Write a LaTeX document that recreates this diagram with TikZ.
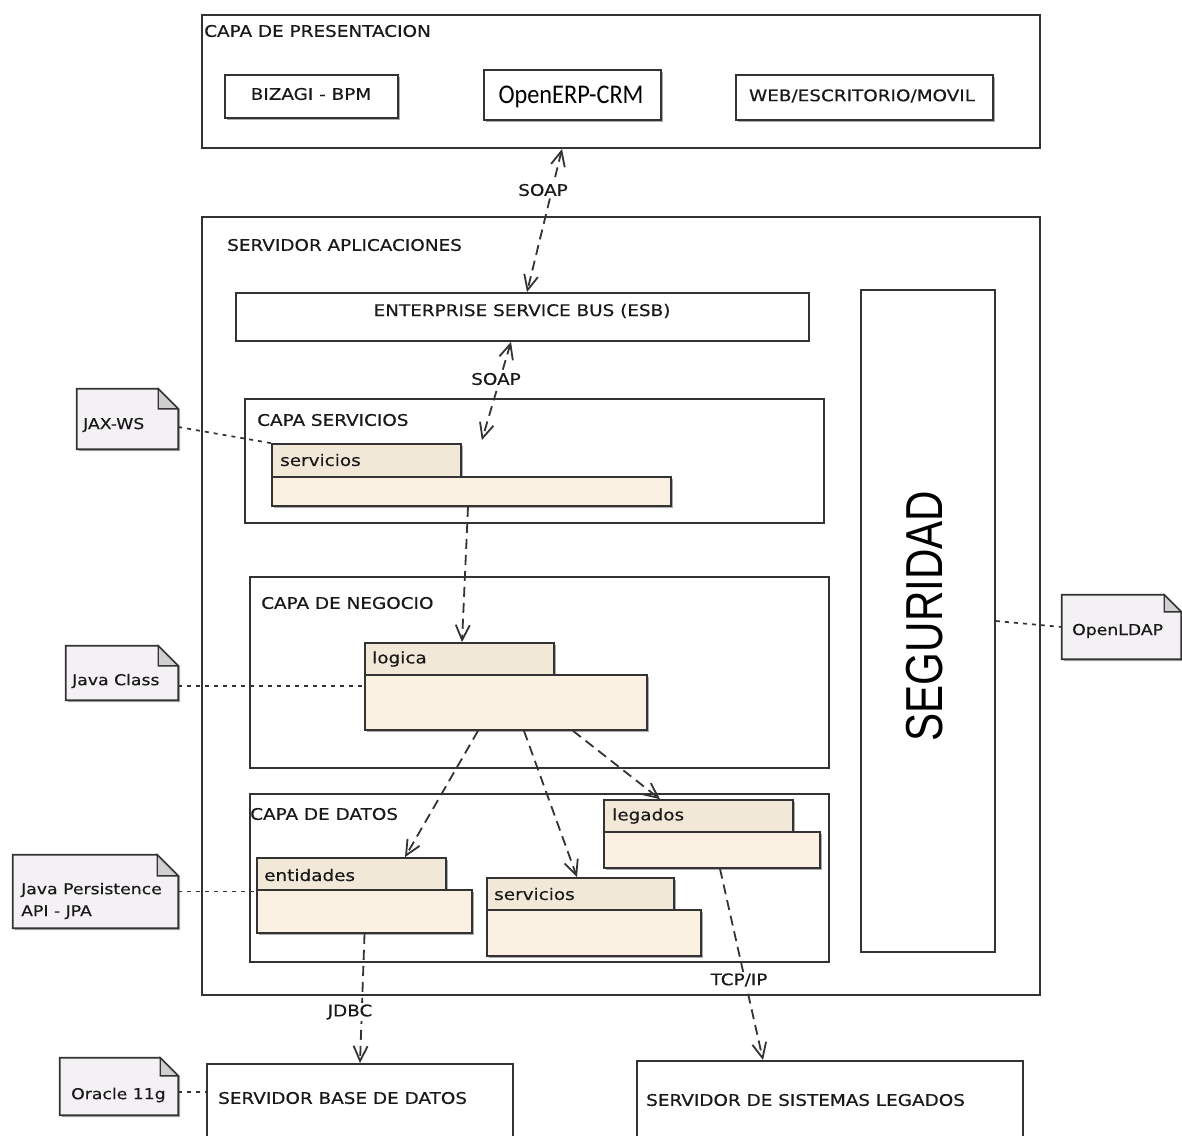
\documentclass[tikz,border=0pt]{standalone}
\usepackage{fontspec}
\newfontfamily\lblfont[FakeStretch=1.15,FakeBold=0.4]{DejaVu Sans}
\newfontfamily\bigfont[FakeStretch=0.81]{Liberation Sans}
\newfontfamily\crmfont[FakeStretch=0.9]{Carlito}
\usetikzlibrary{arrows.meta,fit,shadows,calc}

\definecolor{edge}{HTML}{333333}
\definecolor{pkgbodyfill}{HTML}{FAF1E3}
\definecolor{pkgtabfill}{HTML}{F2E8D8}
\definecolor{notefill}{HTML}{F3F1F3}
\definecolor{notefold}{HTML}{CFCFCF}

% folded-corner note drawn around a named area node
\newcommand{\dognote}[2]{%
  \filldraw[notebox] (#1.north west) -- ([xshift=-#2]#1.north east)
    -- ([yshift=-#2]#1.north east) -- (#1.south east) -- (#1.south west) -- cycle;
  \filldraw[draw=edge, line width=1.4pt, fill=notefold] ([xshift=-#2]#1.north east)
    -- ([xshift=-#2,yshift=-#2]#1.north east) -- ([yshift=-#2]#1.north east) -- cycle;}

\begin{document}
\begin{tikzpicture}[x=1pt, y=-1pt,
  >={Straight Barb[length=15pt,width=14pt,line width=1.8pt]},
  frame/.style={draw=edge, line width=1.9pt, inner sep=0pt, fill=white},
  shade2/.style={drop shadow={shadow xshift=2pt, shadow yshift=-2pt, fill=black!55, opacity=0.6}},
  itembox/.style={frame, line width=1.8pt, shade2},
  pkgtab/.style={draw=edge, line width=1.7pt, inner sep=0pt, fill=pkgtabfill, shade2},
  pkgbody/.style={draw=edge, line width=1.7pt, inner sep=0pt, fill=pkgbodyfill, shade2},
  notearea/.style={inner sep=0pt},
  notebox/.style={draw=edge, line width=1.7pt, fill=notefill, shade2},
  lbl/.style={font=\lblfont\fontsize{16}{18}\selectfont, inner sep=0pt, anchor=west, text=black!90},
  notetxt/.style={font=\lblfont\fontsize{15}{22}\selectfont, inner sep=0pt, anchor=west, text=black!90},
  arrlbl/.style={font=\lblfont\fontsize{16}{18}\selectfont, fill=white, inner sep=1.5pt, text=black!90},
  flow/.style={draw=edge, line width=1.8pt, dash pattern=on 10pt off 6pt},
  noteline/.style={draw=edge, line width=1.7pt, dash pattern=on 4pt off 5pt}]

\useasboundingbox (0,0) rectangle (1182,1135);
\fill[white] (0,0) rectangle (1182,1135);

% ---------- presentation layer ----------
\node[frame, fit={(202,15)(1040,148)}] (pres) {};
\node[lbl] (presT) at (204,31) {CAPA DE PRESENTACION};
\node[itembox, fit={(225,75)(398,118)}] (bizagi) {};
\node[lbl, anchor=center] (bizagiT) at (311,94) {BIZAGI - BPM};
\node[itembox, fit={(484,70)(661,120)}] (openerp) {};
\node[font=\crmfont\fontsize{27}{30}\selectfont, inner sep=0pt] (openerpT) at (571,97) {OpenERP-CRM};
\node[itembox, fit={(736,75)(993,120)}] (web) {};
\node[lbl, anchor=center] (webT) at (862,96) {WEB/ESCRITORIO/MOVIL};

% ---------- application server ----------
\node[frame, fit={(202,217)(1040,995)}] (app) {};
\node[lbl] (appT) at (227,245) {SERVIDOR APLICACIONES};
\node[frame, line width=1.8pt, fit={(236,293)(809,341)}] (esb) {};
\node[lbl, anchor=center] (esbT) at (522,311) {ENTERPRISE SERVICE BUS (ESB)};

% services layer
\node[frame, fit={(245,399)(824,523)}] (lserv) {};
\node[lbl] (lservT) at (257,420) {CAPA SERVICIOS};
\node[pkgtab, fit={(272,444)(461,477)}] (srvtab) {};
\node[pkgbody, fit={(272,477)(671,506)}] (srvbody) {};
\node[lbl] (srvT) at (280,460) {servicios};

% business layer
\node[frame, fit={(250,577)(829,768)}] (lneg) {};
\node[lbl] (lnegT) at (261,603) {CAPA DE NEGOCIO};
\node[pkgtab, fit={(365,643)(554,675)}] (logtab) {};
\node[pkgbody, fit={(365,675)(647,730)}] (logbody) {};
\node[lbl] (logT) at (372,659) {logica};

% data layer
\node[frame, fit={(250,794)(829,962)}] (ldat) {};
\node[lbl] (ldatT) at (250,814) {CAPA DE DATOS};
\node[pkgtab, fit={(257,858)(446,890)}] (enttab) {};
\node[pkgbody, fit={(257,890)(472,933)}] (entbody) {};
\node[lbl] (entT) at (264,875) {entidades};
\node[pkgtab, fit={(487,878)(674,910)}] (srv2tab) {};
\node[pkgbody, fit={(487,910)(701,956)}] (srv2body) {};
\node[lbl] (srv2T) at (494,894) {servicios};
\node[pkgtab, fit={(604,800)(793,832)}] (legtab) {};
\node[pkgbody, fit={(604,832)(820,868)}] (legbody) {};
\node[lbl] (legT) at (612,816) {legados};

% security column
\node[frame, fit={(861,290)(995,952)}] (seg) {};
\node[font=\bigfont\fontsize{52}{54}\selectfont, rotate=90, inner sep=0pt] (segT) at (925,616) {SEGURIDAD};

% ---------- back-end servers ----------
\node[frame, fit={(207,1064)(513,1150)}] (bd) {};
\node[lbl] (bdT) at (218,1098) {SERVIDOR BASE DE DATOS};
\node[frame, fit={(637,1061)(1023,1150)}] (leg) {};
\node[lbl] (legsT) at (646,1100) {SERVIDOR DE SISTEMAS LEGADOS};

% ---------- notes ----------
\node[notearea, fit={(77,389)(178,449)}] (jaxws) {};
\dognote{jaxws}{20pt}
\node[notetxt] (jaxwsT) at (83,425) {JAX-WS};

\node[notearea, fit={(66,646)(178,700)}] (jc) {};
\dognote{jc}{20pt}
\node[notetxt] (jcT) at (72,681) {Java Class};

\node[notearea, fit={(13,855)(178,928)}] (jpa) {};
\dognote{jpa}{21pt}
\node[notetxt, align=left] (jpaT) at (21,901) {Java Persistence\\API - JPA};

\node[notearea, fit={(1062,595)(1181,659)}] (ldap) {};
\dognote{ldap}{17pt}
\node[notetxt] (ldapT) at (1072,631) {OpenLDAP};

\node[notearea, fit={(60,1058)(178,1115)}] (ora) {};
\dognote{ora}{18pt}
\node[notetxt] (oraT) at (71,1095) {Oracle 11g};

% ---------- note links ----------
\draw[noteline] ([yshift=-8pt]jaxws.east) -- (srvtab.north west);
\coordinate (jcout) at ([yshift=-13pt]jc.east);
\draw[noteline] (jcout) -- (jcout -| logbody.west);
\draw[noteline] (jpa.east) -- (jpa.east -| entbody.west);
\draw[noteline] (seg.east) -- (ldap.west);
\coordinate (oraout) at ([yshift=-5.5pt]ora.east);
\draw[noteline] (oraout) -- (oraout -| bd.west);

% ---------- dependencies ----------
\draw[flow, <->] ([xshift=-59pt]pres.south) -- ([xshift=4.5pt]esb.north);
\node[arrlbl] (soap1) at (543,190) {SOAP};
\draw[flow, <->] ([xshift=-11.5pt]esb.south) -- ([xshift=20pt,yshift=3pt]srvtab.north east);
\node[arrlbl] (soap2) at (496,379) {SOAP};
\draw[flow, ->] ([xshift=-3.5pt]srvbody.south) -- ([xshift=2.5pt]logtab.north);
\draw[flow, ->] ([xshift=-28pt]logbody.south) -- ([xshift=53.5pt]enttab.north);
\draw[flow, ->] ([xshift=18pt]logbody.south) -- ([xshift=-3.5pt]srv2tab.north);
\draw[flow, ->] ([xshift=67pt]logbody.south) -- ([xshift=-38.5pt]legtab.north);
\draw[flow, ->] (entbody.south) -- (bd.north);
\node[arrlbl] (jdbc) at (350,1012) {JDBC};
\draw[flow, ->] ([xshift=8pt]legbody.south) -- ([xshift=-67pt]leg.north);
\node[arrlbl] (tcp) at (739,980) {TCP/IP};

\end{tikzpicture}
\end{document}
